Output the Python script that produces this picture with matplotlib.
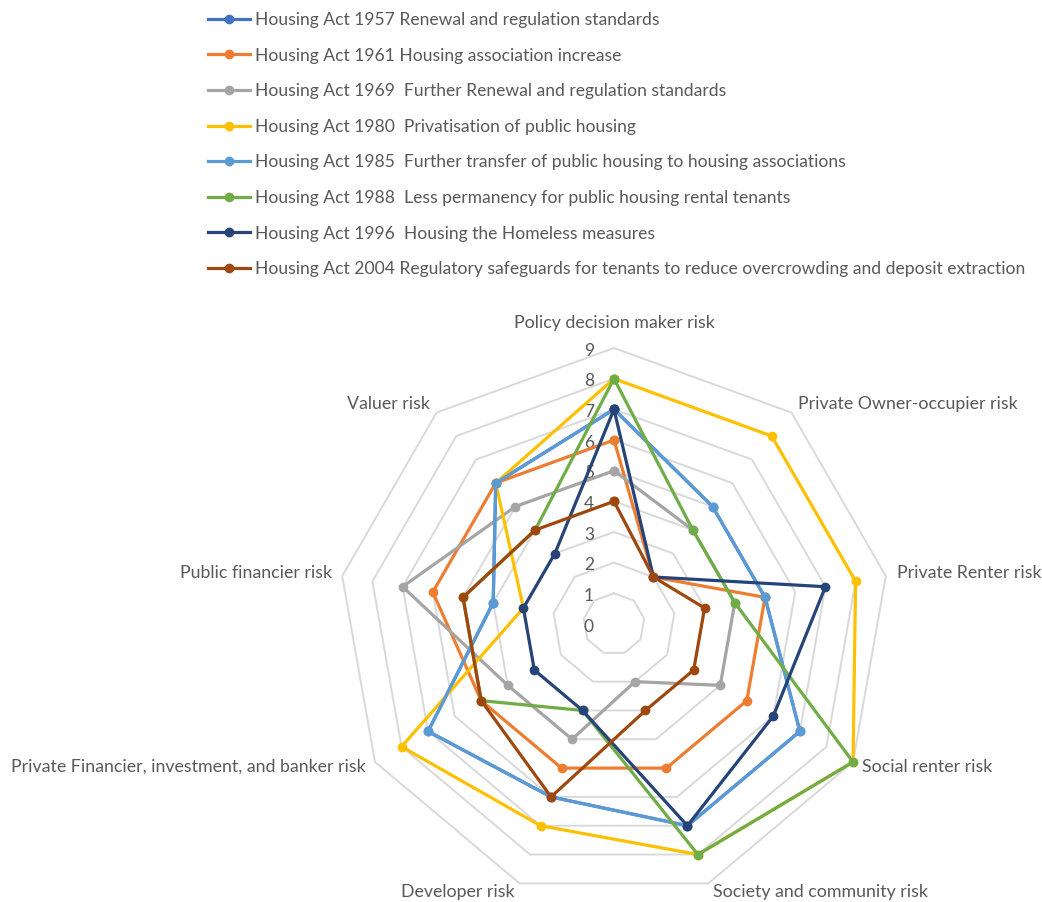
import numpy as np
import matplotlib
matplotlib.use("Agg")
import matplotlib.pyplot as plt

plt.rcParams['font.family'] = ['Lato', 'DejaVu Sans']

categories = ["Policy decision maker risk", "Private Owner-occupier risk", "Private Renter risk",
              "Social renter risk", "Society and community risk", "Developer risk",
              "Private Financier, investment, and banker risk", "Public financier risk", "Valuer risk"]

series_names = [
    "Housing Act 1957 Renewal and regulation standards",
    "Housing Act 1961 Housing association increase",
    "Housing Act 1969  Further Renewal and regulation standards",
    "Housing Act 1980  Privatisation of public housing",
    "Housing Act 1985  Further transfer of public housing to housing associations",
    "Housing Act 1988  Less permanency for public housing rental tenants",
    "Housing Act 1996  Housing the Homeless measures",
    "Housing Act 2004 Regulatory safeguards for tenants to reduce overcrowding and deposit extraction",
]

act_1957 = [7, 5, 5, 7, 7, 6, 7, 4, 6]
act_1961 = [6, 2, 5, 5, 5, 5, 5, 6, 6]
act_1969 = [5, 4, 4, 4, 2, 4, 4, 7, 5]
act_1980 = [8, 8, 8, 9, 8, 7, 8, 3, 6]
act_1985 = [7, 5, 5, 7, 7, 6, 7, 4, 6]
act_1988 = [8, 4, 4, 9, 8, 3, 5, 5, 4]
act_1996 = [7, 2, 7, 6, 7, 3, 3, 3, 3]
act_2004 = [4, 2, 3, 3, 3, 6, 5, 5, 4]

values = [act_1957, act_1961, act_1969, act_1980, act_1985, act_1988, act_1996, act_2004]
colors = ["#4472C4", "#ED7D31", "#A5A5A5", "#FFC000", "#5B9BD5", "#70AD47", "#264478", "#9E480E"]
ticks = list(range(0, 10))

W, H = 1042, 902
fig = plt.figure(figsize=(W / 100, H / 100), dpi=100)
cx, cy, R = 614, 624, 276
ax = fig.add_axes([(cx - R) / W, (H - cy - R) / H, 2 * R / W, 2 * R / H], projection='polar')
ax.set_theta_zero_location('N')
ax.set_theta_direction(-1)
ax.set_ylim(0, 9)
ax.grid(False)
ax.spines['polar'].set_visible(False)
ax.set_xticks([])
ax.set_yticks([])
ax.patch.set_alpha(0)

n = len(categories)
theta = np.arange(n) * 2 * np.pi / n
theta_c = np.append(theta, theta[0])

grid_col = "#D9D9D9"
for t in ticks[1:]:
    ax.plot(theta_c, [t] * (n + 1), color=grid_col, lw=1.4, zorder=1, clip_on=False)

text_col = "#595959"
for t in ticks:
    ax.annotate(str(t), xy=(0, t), xytext=(-18, -2), textcoords='offset points',
                ha='center', va='center', fontsize=12.5, color=text_col, zorder=2)

fs = 12.8
offsets = [(0, 18, 'center'), (5, 6.5, 'left'), (8, 2, 'left'), (6.5, -3.5, 'left'), (3, -6, 'left'),
           (-3.5, -6, 'right'), (-7, -3.5, 'right'), (-7, 2, 'right'), (-5, 6.5, 'right')]
for i, cat in enumerate(categories):
    dx, dy, ha = offsets[i]
    ax.annotate(cat, xy=(theta[i], 9), xytext=(dx, dy), textcoords='offset points',
                ha=ha, va='center', fontsize=fs, color=text_col, annotation_clip=False)

handles = []
for name, vals, col in zip(series_names, values, colors):
    v = list(vals) + [vals[0]]
    h, = ax.plot(theta_c, v, color=col, lw=2.3, marker='o', markersize=6, label=name,
                 zorder=3, clip_on=False)
    handles.append(h)

fs_leg = 12.6
leg = fig.legend(handles=handles, loc='upper left', bbox_to_anchor=(208 / W, 1 - 12 / H),
                 frameon=False, fontsize=fs_leg, handlelength=2.42, handletextpad=0.28,
                 labelspacing=1.12, borderaxespad=0, borderpad=0)
for txt in leg.get_texts():
    txt.set_color(text_col)

fig.savefig("out.png", dpi=100)
